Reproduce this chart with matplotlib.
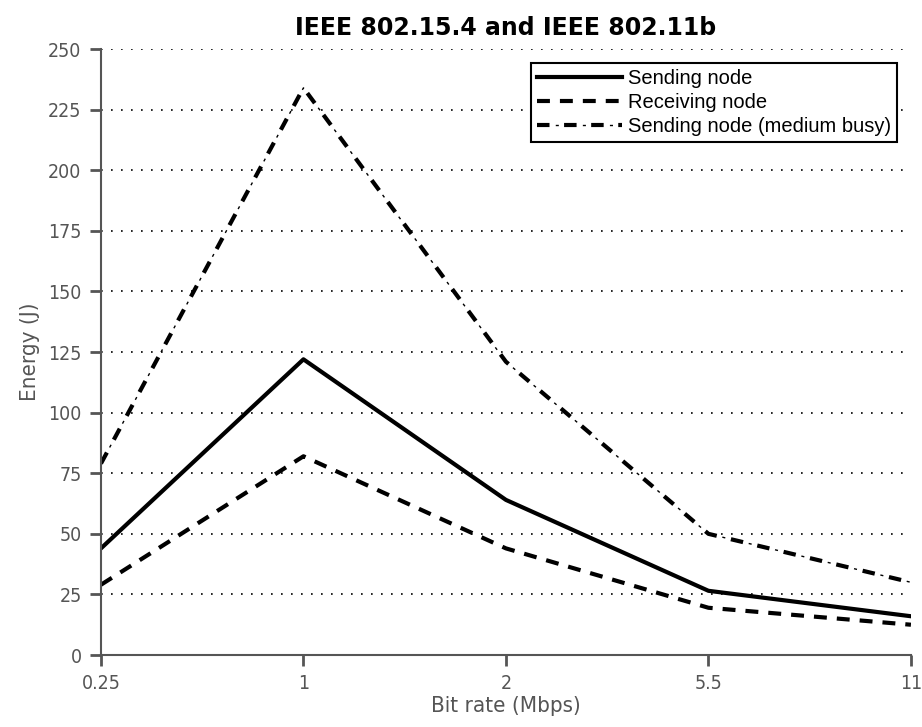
import matplotlib.pyplot as plt
from matplotlib import font_manager

bit_rates = ['0.25', '1', '2', '5.5', '11']
sending = [44, 122, 64, 26.5, 16]
receiving = [29, 82, 44, 19.5, 12.5]
sending_busy = [79, 234, 121, 50, 30]
yticks = [0, 25, 50, 75, 100, 125, 150, 175, 200, 225, 250]

# condensed face for ticks if one is installed
cond = [f for f in font_manager.fontManager.ttflist
        if f.name == 'DejaVu Sans' and f.stretch == 'condensed' and f.weight in (400, 'normal')]
tick_kw = {'family': 'DejaVu Sans', 'stretch': 'condensed'} if cond else {'family': 'Liberation Sans'}

fig = plt.figure(figsize=(9.22, 7.27), dpi=100)
ax = fig.add_axes([0.1095, 0.099, 0.8785, 0.8335])

x = range(len(bit_rates))
l1, = ax.plot(x, sending, color='black', lw=3, ls='-')
l2, = ax.plot(x, receiving, color='black', lw=3, ls=(0, (3.1, 2.4)))
# dash-dot drawn as thick dashes plus thin dots between them
l3a, = ax.plot(x, sending_busy, color='black', lw=3, ls=(0, (3, 3.5)))
l3b, = ax.plot(x, sending_busy, color='black', lw=1, ls=(6.35, (2.2, 17.3)))

ax.set_xlim(0, 4)
ax.set_ylim(0, 250)
ax.set_xticks(list(x))
ax.set_xticklabels(bit_rates)
ax.set_yticks(yticks)
ax.yaxis.grid(True, ls=(0, (1, 5)), color='black', lw=1.2)
ax.set_axisbelow(True)

for s in ['top', 'right']:
    ax.spines[s].set_visible(False)
for s in ['left', 'bottom']:
    ax.spines[s].set_color('#555555')
    ax.spines[s].set_linewidth(1.5)
ax.tick_params(direction='out', length=8, width=2, color='#555555', labelcolor='#555555', labelsize=14, pad=6)
for lab in ax.get_xticklabels() + ax.get_yticklabels():
    lab.set(**tick_kw)

ax.set_xlabel('Bit rate (Mbps)', fontsize=16, color='#555555', labelpad=2, **tick_kw)
ax.set_ylabel('Energy (J)', fontsize=16, color='#555555', labelpad=6, **tick_kw)
ax.set_title('IEEE 802.15.4 and IEEE 802.11b', fontsize=17, fontweight='bold', family='DejaVu Sans', pad=10)

leg = ax.legend([l1, l2, (l3a, l3b)],
                ['Sending node', 'Receiving node', 'Sending node (medium busy)'],
                loc='upper right', bbox_to_anchor=(0.983, 0.977), borderaxespad=0, handlelength=4.2,
                handletextpad=0.3, borderpad=0.3, labelspacing=0.25, fancybox=False, framealpha=1,
                prop={'family': 'Liberation Sans', 'size': 14.5})
leg.get_frame().set_edgecolor('black')
leg.get_frame().set_linewidth(1.5)

fig.savefig('out.png', dpi=100)
